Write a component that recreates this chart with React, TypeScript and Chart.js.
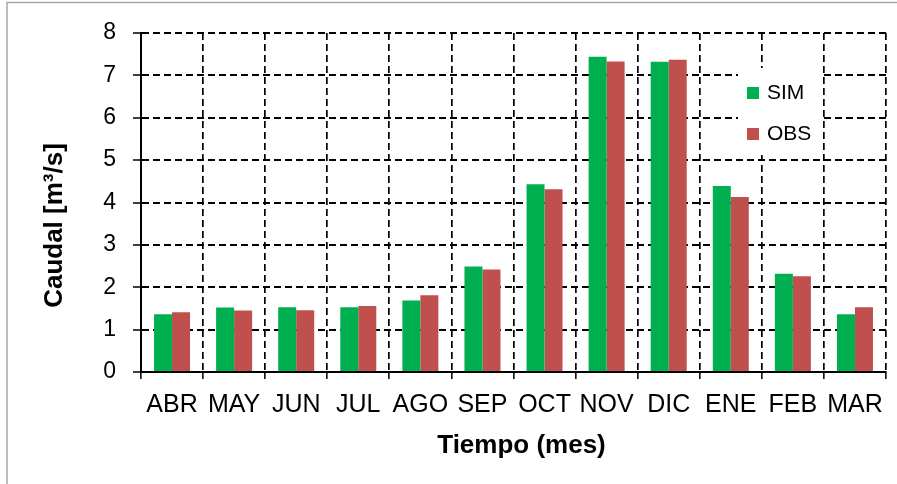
import React, { useEffect, useRef } from "react";
import { Chart, registerables } from "chart.js";

Chart.register(...registerables);

const MONTHS = ["ABR", "MAY", "JUN", "JUL", "AGO", "SEP", "OCT", "NOV", "DIC", "ENE", "FEB", "MAR"];
const SIM = [1.36, 1.52, 1.53, 1.53, 1.69, 2.49, 4.43, 7.44, 7.32, 4.39, 2.32, 1.36];
const OBS = [1.41, 1.45, 1.46, 1.56, 1.81, 2.42, 4.31, 7.33, 7.37, 4.13, 2.26, 1.53];
const SERIES_NAMES = ["SIM", "OBS"];
const SERIES_COLORS = ["#00B050", "#C0504D"];
const X_TITLE = "Tiempo (mes)";
const Y_TITLE = "Caudal [m³/s]";

const FONT = '"Liberation Sans", Arial, sans-serif';

const framePlugin = {
  id: "frame",
  beforeDraw(chart: any) {
    const { ctx, width, height } = chart;
    ctx.save();
    ctx.fillStyle = "#ffffff";
    ctx.fillRect(0, 0, width, height);
    ctx.strokeStyle = "#a6a6a6";
    ctx.lineWidth = 1.5;
    ctx.strokeRect(7, 2.5, width + 20, height + 20);
    ctx.restore();
  },
};

const titlesPlugin = {
  id: "axisTitles",
  afterDraw(chart: any) {
    const { ctx, chartArea } = chart;
    ctx.save();
    ctx.fillStyle = "#000";
    ctx.font = `bold 26px ${FONT}`;
    ctx.textAlign = "center";
    ctx.textBaseline = "middle";
    ctx.fillText(X_TITLE, (chartArea.left + chartArea.right) / 2 + 8, chartArea.bottom + 74);
    ctx.translate(chartArea.left - 86, (chartArea.top + chartArea.bottom) / 2 + 23);
    ctx.rotate(-Math.PI / 2);
    ctx.fillText(Y_TITLE, 0, 0);
    ctx.restore();
  },
};

const legendPlugin = {
  id: "innerLegend",
  afterDatasetsDraw(chart: any) {
    const { ctx, chartArea } = chart;
    const bx = chartArea.right - 148;
    const by = chartArea.top + 35;
    ctx.save();
    ctx.fillStyle = "#ffffff";
    ctx.fillRect(bx, by, 83, 87);
    ctx.font = `21px ${FONT}`;
    ctx.textBaseline = "middle";
    ctx.textAlign = "left";
    chart.data.datasets.forEach((ds: any, i: number) => {
      const y = by + 19 + i * 41;
      ctx.fillStyle = ds.backgroundColor;
      ctx.fillRect(bx + 9, y, 12, 12);
      ctx.fillStyle = "#000";
      ctx.fillText(ds.label, bx + 29, y + 6);
    });
    ctx.restore();
  },
};

export default function App() {
  const canvasRef = useRef<HTMLCanvasElement | null>(null);

  useEffect(() => {
    const canvas = canvasRef.current;
    if (!canvas) return;
    const chart = new Chart(canvas, {
      type: "bar",
      data: {
        labels: MONTHS,
        datasets: [
          { label: SERIES_NAMES[0], data: SIM, backgroundColor: SERIES_COLORS[0], borderWidth: 0 },
          { label: SERIES_NAMES[1], data: OBS, backgroundColor: SERIES_COLORS[1], borderWidth: 0 },
        ],
      },
      options: {
        responsive: false,
        animation: false,
        devicePixelRatio: 1,
        layout: { padding: { top: 33, right: 11, left: 0, bottom: 0 } },
        datasets: { bar: { categoryPercentage: 0.58, barPercentage: 1 } },
        plugins: {
          legend: { display: false },
          title: { display: false },
          tooltip: { enabled: false },
        },
        scales: {
          x: {
            afterFit: (scale: any) => {
              scale.height = 112;
            },
            grid: {
              color: "#000",
              lineWidth: 1.7,
              offset: true,
              drawTicks: true,
              tickLength: 7,
              tickColor: "#000",
              tickWidth: 1.5,
              tickBorderDash: [],
            },
            border: { display: true, color: "#000", width: 2, dash: [7, 4] },
            ticks: {
              color: "#000",
              font: { family: FONT, size: 25 },
              padding: 11,
              maxRotation: 0,
              autoSkip: false,
            },
          },
          y: {
            min: 0,
            max: 8,
            afterFit: (scale: any) => {
              scale.width = 141;
            },
            grid: {
              color: "#000",
              lineWidth: 2,
              drawTicks: true,
              tickLength: 8,
              tickColor: "#000",
              tickWidth: 1.5,
              tickBorderDash: [],
            },
            border: { display: true, color: "#000", width: 2, dash: [7, 4] },
            ticks: {
              stepSize: 1,
              color: "#000",
              font: { family: FONT, size: 23 },
              padding: 17,
            },
          },
        },
      },
      plugins: [framePlugin, legendPlugin, titlesPlugin],
    });
    return () => chart.destroy();
  }, []);

  return (
    <div style={{ position: "fixed", left: 0, top: 0, width: 897, height: 484 }}>
      <canvas ref={canvasRef} width={897} height={484} style={{ display: "block", width: 897, height: 484 }} />
    </div>
  );
}
